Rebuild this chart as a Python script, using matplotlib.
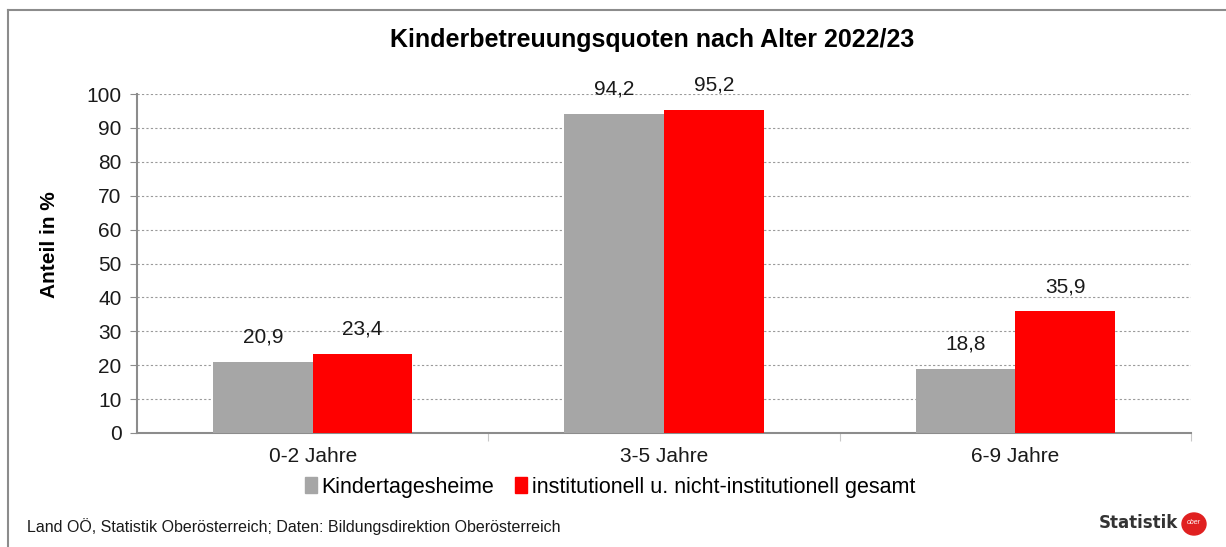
import matplotlib.pyplot as plt
import numpy as np
from matplotlib.patches import Patch, Ellipse

# Data
categories = ["0-2 Jahre", "3-5 Jahre", "6-9 Jahre"]
kindertagesheime = [20.9, 94.2, 18.8]
gesamt = [23.4, 95.2, 35.9]
series_names = ["Kindertagesheime", "institutionell u. nicht-institutionell gesamt"]
yticks = list(range(0, 101, 10))

plt.rcParams['font.family'] = ['Liberation Sans', 'DejaVu Sans']

W, H = 1226, 547
fig = plt.figure(figsize=(W / 100, H / 100), dpi=100)

# outer frame (left and top edges)
fig.add_artist(plt.Line2D([8 / W, 8 / W], [0, 1 - 10 / H], color='#8c8c8c', lw=1.5))
fig.add_artist(plt.Line2D([8 / W, 1], [1 - 10 / H, 1 - 10 / H], color='#8c8c8c', lw=1.5))

ax = fig.add_axes([137 / W, (H - 433) / H, (1191 - 137) / W, (433 - 94) / H])

x = np.arange(len(categories))
bw = 0.284
gray = '#a6a6a6'
red = '#ff0000'
b1 = ax.bar(x - bw / 2, kindertagesheime, bw, color=gray, zorder=3)
b2 = ax.bar(x + bw / 2, gesamt, bw, color=red, zorder=3)

for bars, vals in [(b1, kindertagesheime), (b2, gesamt)]:
    for rect, v in zip(bars, vals):
        ax.annotate(f"{v:.1f}".replace('.', ','),
                    (rect.get_x() + rect.get_width() / 2, v),
                    xytext=(0, 11), textcoords='offset points',
                    ha='center', va='bottom', fontsize=15, color='#1a1a1a')

ax.set_xlim(-0.5, 2.5)
ax.set_ylim(0, 100)
ax.set_yticks(yticks)
ax.tick_params(axis='y', labelsize=15, length=5, color='#8c8c8c', pad=6, labelcolor='#1a1a1a')
ax.grid(axis='y', color='#9a9a9a', linestyle=(0, (2, 2)), linewidth=0.8, zorder=0)

# category labels centred, ticks on the boundaries
ax.set_xticks([0.5, 1.5, 2.5])
ax.set_xticklabels([])
ax.set_xticks(x, minor=True)
ax.set_xticklabels(categories, minor=True)
ax.tick_params(axis='x', which='major', length=6, color='#c8c8c8')
ax.tick_params(axis='x', which='minor', length=0, labelsize=15, pad=10, labelcolor='#1a1a1a')

for s in ['top', 'right']:
    ax.spines[s].set_visible(False)
for s in ['left', 'bottom']:
    ax.spines[s].set_color('#8c8c8c')
    ax.spines[s].set_linewidth(1.5)

ax.set_ylabel("Anteil in %", fontsize=15, fontweight='bold')
ax.yaxis.set_label_coords(-0.074, 0.555)

fig.text(652 / W, 1 - 40 / H, "Kinderbetreuungsquoten nach Alter 2022/23",
         ha='center', va='center', fontsize=18, fontweight='bold')

handles = [Patch(color=gray), Patch(color=red)]
fig.legend(handles, series_names, loc='center', bbox_to_anchor=(610 / W, 1 - 487 / H),
           ncol=2, frameon=False, fontsize=15.5, handlelength=0.55, handleheight=0.75,
           handletextpad=0.2, columnspacing=1.0, borderpad=0)

fig.text(27 / W, 1 - 527 / H,
         "Land OÖ, Statistik Oberösterreich; Daten: Bildungsdirektion Oberösterreich",
         ha='left', va='center', fontsize=11.5, color='#1a1a1a')
fig.text(1178 / W, 1 - 523 / H, "Statistik", ha='right', va='center',
         fontsize=12, fontweight='bold', color='#333333', family=['DejaVu Sans'])
fig.add_artist(Ellipse((1194 / W, 1 - 524 / H), 24 / W, 22 / H, color='#e02020',
                       transform=fig.transFigure))
fig.text(1194 / W, 1 - 523 / H, "ober", ha='center', va='center', fontsize=5,
         color='white', style='italic')

fig.savefig("out.png", dpi=100)
